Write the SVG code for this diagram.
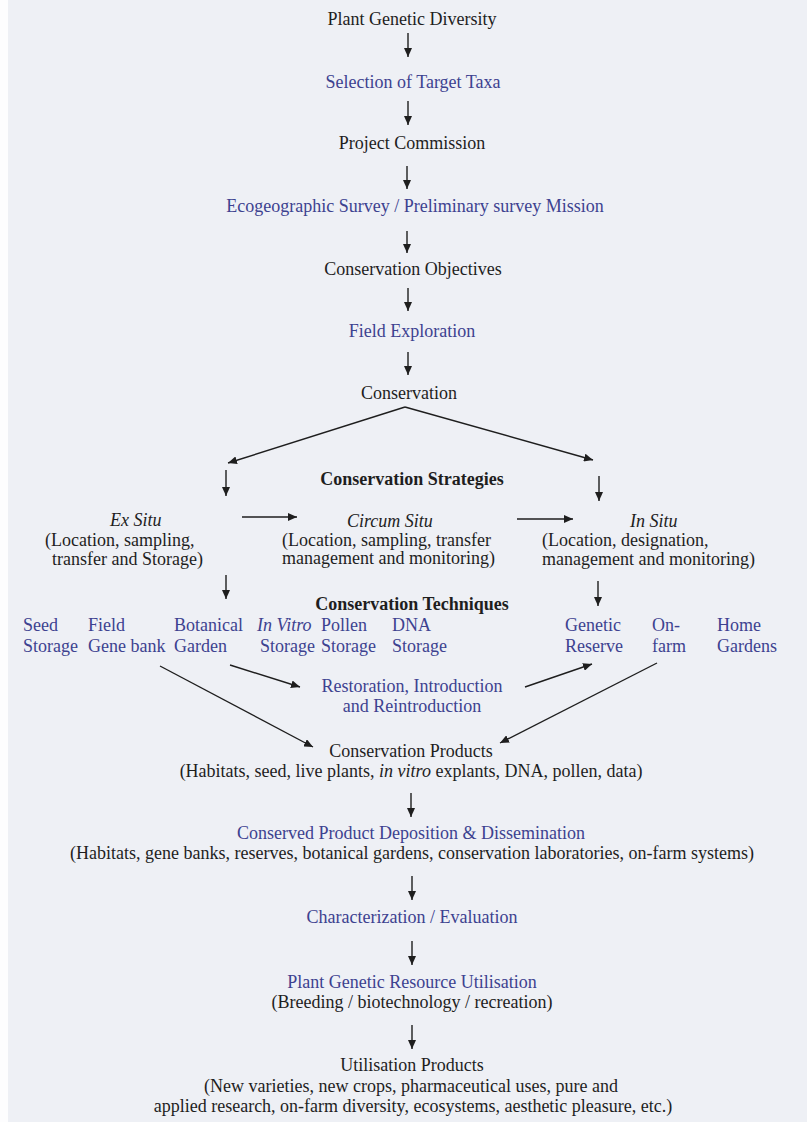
<svg xmlns="http://www.w3.org/2000/svg" width="807" height="1122" viewBox="0 0 807 1122">
<style>
text{font-family:"Liberation Serif","Times New Roman",serif;font-size:18px;fill:#1e1e1e}
.c{text-anchor:middle}
.b{fill:#3d4290}
.i{font-style:italic}
.h{font-weight:bold}
.ln{stroke:#1e1e1e;stroke-width:1.4;fill:none;marker-end:url(#ah)}
</style>
<defs>
<marker id="ah" markerUnits="userSpaceOnUse" markerWidth="10" markerHeight="8" refX="9" refY="4" orient="auto">
<path d="M0,0 L9,4 L0,8 z" fill="#1e1e1e"/>
</marker>
</defs>
<rect x="0" y="0" width="807" height="1122" fill="#fdfdfe"/>
<rect x="8" y="0" width="799" height="1122" fill="#eef0f5"/>

<g id="connectors">
<line class="ln" x1="408" y1="33" x2="408" y2="57"/>
<line class="ln" x1="408" y1="101" x2="408" y2="125"/>
<line class="ln" x1="407" y1="166" x2="407" y2="189"/>
<line class="ln" x1="407" y1="231" x2="407" y2="253"/>
<line class="ln" x1="408" y1="288" x2="408" y2="311"/>
<line class="ln" x1="408" y1="352" x2="408" y2="375"/>
<line class="ln" x1="405" y1="407" x2="228" y2="463"/>
<line class="ln" x1="405" y1="407" x2="593" y2="460"/>
<line class="ln" x1="226" y1="470" x2="226" y2="496"/>
<line class="ln" x1="599" y1="476" x2="599" y2="501"/>
<line class="ln" x1="242" y1="517" x2="297" y2="517"/>
<line class="ln" x1="517" y1="519" x2="573" y2="519"/>
<line class="ln" x1="226" y1="575" x2="226" y2="599"/>
<line class="ln" x1="598" y1="581" x2="598" y2="606"/>
<line class="ln" x1="160" y1="666" x2="313" y2="747"/>
<line class="ln" x1="230" y1="665" x2="300" y2="687"/>
<line class="ln" x1="525" y1="687" x2="592" y2="664"/>
<line class="ln" x1="657" y1="663" x2="500" y2="743"/>
<line class="ln" x1="411" y1="793" x2="411" y2="817"/>
<line class="ln" x1="412" y1="876" x2="412" y2="900"/>
<line class="ln" x1="412" y1="941" x2="412" y2="965"/>
<line class="ln" x1="412" y1="1025" x2="412" y2="1049"/>
</g>

<g id="plant-genetic-diversity"><text class="c" x="412" y="25">Plant Genetic Diversity</text></g>
<g id="selection"><text class="c b" x="413" y="88">Selection of Target Taxa</text></g>
<g id="project-commission"><text class="c" x="412" y="149">Project Commission</text></g>
<g id="ecogeographic"><text class="c b" x="415" y="212">Ecogeographic Survey / Preliminary survey Mission</text></g>
<g id="objectives"><text class="c" x="413" y="275">Conservation Objectives</text></g>
<g id="field-exploration"><text class="c b" x="412" y="337">Field Exploration</text></g>
<g id="conservation"><text class="c" x="409" y="399">Conservation</text></g>
<g id="strategies"><text class="c h" x="412" y="485">Conservation Strategies</text></g>

<g id="ex-situ">
<text class="i" x="110" y="526">Ex Situ</text>
<text x="45" y="546">(Location, sampling,</text>
<text x="52" y="565">transfer and Storage)</text>
</g>
<g id="circum-situ">
<text class="i" x="347" y="527">Circum Situ</text>
<text x="282" y="546">(Location, sampling, transfer</text>
<text x="282" y="564">management and monitoring)</text>
</g>
<g id="in-situ">
<text class="i" x="630" y="527">In Situ</text>
<text x="542" y="546">(Location, designation,</text>
<text x="542" y="565">management and monitoring)</text>
</g>

<g id="techniques"><text class="c h" x="412" y="610">Conservation Techniques</text></g>

<g id="seed-storage"><text class="b" x="23" y="631">Seed</text><text class="b" x="23" y="652">Storage</text></g>
<g id="field-gene-bank"><text class="b" x="88" y="631">Field</text><text class="b" x="88" y="652">Gene bank</text></g>
<g id="botanical-garden"><text class="b" x="174" y="631">Botanical</text><text class="b" x="174" y="652">Garden</text></g>
<g id="in-vitro-storage"><text class="b i" x="257" y="631">In Vitro</text><text class="b" x="260" y="652">Storage</text></g>
<g id="pollen-storage"><text class="b" x="321" y="631">Pollen</text><text class="b" x="321" y="652">Storage</text></g>
<g id="dna-storage"><text class="b" x="392" y="631">DNA</text><text class="b" x="392" y="652">Storage</text></g>
<g id="genetic-reserve"><text class="b" x="565" y="631">Genetic</text><text class="b" x="565" y="652">Reserve</text></g>
<g id="on-farm"><text class="b" x="652" y="631">On-</text><text class="b" x="652" y="652">farm</text></g>
<g id="home-gardens"><text class="b" x="717" y="631">Home</text><text class="b" x="717" y="652">Gardens</text></g>

<g id="restoration">
<text class="c b" x="412" y="692">Restoration, Introduction</text>
<text class="c b" x="412" y="712">and Reintroduction</text>
</g>

<g id="conservation-products">
<text class="c" x="411" y="757">Conservation Products</text>
<text class="c" x="411" y="777">(Habitats, seed, live plants, <tspan class="i">in vitro</tspan> explants, DNA, pollen, data)</text>
</g>
<g id="deposition">
<text class="c b" x="411" y="839">Conserved Product Deposition &amp; Dissemination</text>
<text class="c" x="412" y="859">(Habitats, gene banks, reserves, botanical gardens, conservation laboratories, on-farm systems)</text>
</g>
<g id="characterization"><text class="c b" x="412" y="923">Characterization / Evaluation</text></g>
<g id="utilisation">
<text class="c b" x="412" y="988">Plant Genetic Resource Utilisation</text>
<text class="c" x="412" y="1008">(Breeding / biotechnology / recreation)</text>
</g>
<g id="utilisation-products">
<text class="c" x="412" y="1071">Utilisation Products</text>
<text class="c" x="411" y="1092">(New varieties, new crops, pharmaceutical uses, pure and</text>
<text class="c" x="413" y="1112">applied research, on-farm diversity, ecosystems, aesthetic pleasure, etc.)</text>
</g>
</svg>
